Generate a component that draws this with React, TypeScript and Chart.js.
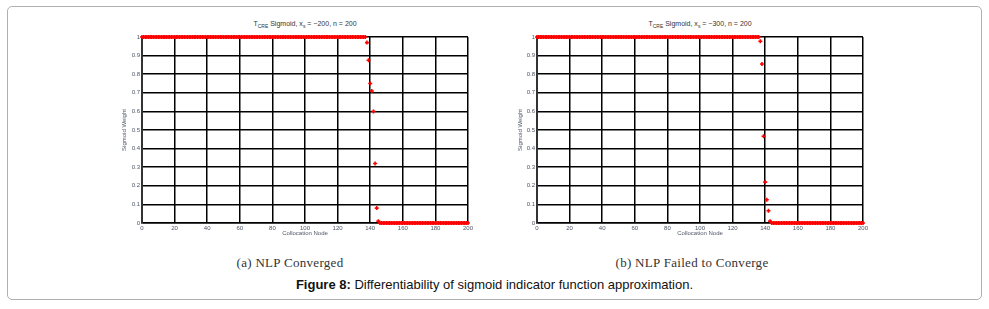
import React, { useEffect, useRef } from "react";
import { Chart, registerables } from "chart.js";

Chart.register(...registerables);

// Tick values
const xTickValues = [0, 20, 40, 60, 80, 100, 120, 140, 160, 180, 200];
const yTickValues = [0, 0.1, 0.2, 0.3, 0.4, 0.5, 0.6, 0.7, 0.8, 0.9, 1];

// Sigmoid weight at collocation nodes 0..200, (a) NLP converged, x_s = -200
const convergedWeights = [
  1, 1, 1, 1, 1, 1, 1, 1, 1, 1, 1, 1, 1, 1, 1, 1, 1, 1, 1, 1,
  1, 1, 1, 1, 1, 1, 1, 1, 1, 1, 1, 1, 1, 1, 1, 1, 1, 1, 1, 1,
  1, 1, 1, 1, 1, 1, 1, 1, 1, 1, 1, 1, 1, 1, 1, 1, 1, 1, 1, 1,
  1, 1, 1, 1, 1, 1, 1, 1, 1, 1, 1, 1, 1, 1, 1, 1, 1, 1, 1, 1,
  1, 1, 1, 1, 1, 1, 1, 1, 1, 1, 1, 1, 1, 1, 1, 1, 1, 1, 1, 1,
  1, 1, 1, 1, 1, 1, 1, 1, 1, 1, 1, 1, 1, 1, 1, 1, 1, 1, 1, 1,
  1, 1, 1, 1, 1, 1, 1, 1, 1, 1, 1, 1, 1, 1, 1, 1, 1, 1,
  0.97, 0.875, 0.75, 0.71, 0.6, 0.32, 0.08, 0.01,
  0, 0, 0, 0, 0, 0, 0, 0, 0, 0, 0, 0, 0, 0, 0, 0, 0, 0, 0, 0,
  0, 0, 0, 0, 0, 0, 0, 0, 0, 0, 0, 0, 0, 0, 0, 0, 0, 0, 0, 0,
  0, 0, 0, 0, 0, 0, 0, 0, 0, 0, 0, 0, 0, 0, 0,
];

// Sigmoid weight at collocation nodes 0..200, (b) NLP failed to converge, x_s = -300
const failedWeights = [
  1, 1, 1, 1, 1, 1, 1, 1, 1, 1, 1, 1, 1, 1, 1, 1, 1, 1, 1, 1,
  1, 1, 1, 1, 1, 1, 1, 1, 1, 1, 1, 1, 1, 1, 1, 1, 1, 1, 1, 1,
  1, 1, 1, 1, 1, 1, 1, 1, 1, 1, 1, 1, 1, 1, 1, 1, 1, 1, 1, 1,
  1, 1, 1, 1, 1, 1, 1, 1, 1, 1, 1, 1, 1, 1, 1, 1, 1, 1, 1, 1,
  1, 1, 1, 1, 1, 1, 1, 1, 1, 1, 1, 1, 1, 1, 1, 1, 1, 1, 1, 1,
  1, 1, 1, 1, 1, 1, 1, 1, 1, 1, 1, 1, 1, 1, 1, 1, 1, 1, 1, 1,
  1, 1, 1, 1, 1, 1, 1, 1, 1, 1, 1, 1, 1, 1, 1, 1, 1,
  0.977, 0.855, 0.466, 0.22, 0.125, 0.066, 0.01,
  0, 0, 0, 0, 0, 0, 0, 0, 0, 0, 0, 0, 0, 0, 0, 0, 0, 0, 0, 0,
  0, 0, 0, 0, 0, 0, 0, 0, 0, 0, 0, 0, 0, 0, 0, 0, 0, 0, 0, 0,
  0, 0, 0, 0, 0, 0, 0, 0, 0, 0, 0, 0, 0, 0, 0, 0, 0,
];

const xAxisTitle = "Collocation Node";
const yAxisTitle = "Sigmoid Weight";

const TICK_COLOR = "#4d5566";
const FONT = "'Liberation Sans', Arial, sans-serif";
const SERIF = "'Liberation Serif', 'DejaVu Serif', serif";

function SigmoidChart(props: { values: number[]; left: number; yTitlePad: number }) {
  const ref = useRef<HTMLCanvasElement | null>(null);
  useEffect(() => {
    if (!ref.current) return;
    const chart = new Chart(ref.current, {
      type: "scatter",
      data: {
        datasets: [
          {
            data: props.values.map((y, i) => ({ x: i, y })),
            pointStyle: "cross",
            pointRadius: 2,
            pointBorderWidth: 1.6,
            borderColor: "#ff0000",
            backgroundColor: "#ff0000",
            showLine: false,
            clip: false as any,
          },
        ],
      },
      options: {
        animation: false,
        responsive: false,
        maintainAspectRatio: false,
        layout: { padding: { left: 0, top: 7, right: 7, bottom: 0 } },
        plugins: { legend: { display: false }, tooltip: { enabled: false }, title: { display: false } },
        scales: {
          x: {
            type: "linear",
            min: 0,
            max: 200,
            afterBuildTicks: (s: any) => {
              s.ticks = xTickValues.map((v) => ({ value: v }));
            },
            afterFit: (s: any) => {
              s.height = 22;
            },
            ticks: {
              autoSkip: false,
              maxRotation: 0,
              padding: 2,
              color: TICK_COLOR,
              font: { family: FONT, size: 6 },
              callback: (v: any) => String(v),
            },
            grid: { color: "#000", lineWidth: 1.5, drawTicks: false },
            border: { color: "#000", width: 1.5 },
            title: {
              display: true,
              text: xAxisTitle,
              color: TICK_COLOR,
              font: { family: FONT, size: 6 },
              padding: { top: 0, bottom: 8 },
            },
          },
          y: {
            type: "linear",
            min: 0,
            max: 1,
            afterBuildTicks: (s: any) => {
              s.ticks = yTickValues.map((v) => ({ value: v }));
            },
            afterFit: (s: any) => {
              s.width = 42;
            },
            ticks: {
              autoSkip: false,
              padding: 2,
              color: TICK_COLOR,
              font: { family: FONT, size: 6 },
              callback: (v: any) => String(+Number(v).toFixed(1)),
            },
            grid: { color: "#000", lineWidth: 1.5, drawTicks: false },
            border: { color: "#333", width: 2 },
            title: {
              display: true,
              text: yAxisTitle,
              color: TICK_COLOR,
              font: { family: FONT, size: 6 },
              padding: { top: props.yTitlePad, bottom: 0 },
            },
          },
        },
      },
    });
    return () => chart.destroy();
  }, []);
  return (
    <canvas
      ref={ref}
      width={375}
      height={215}
      style={{ position: "absolute", left: props.left, top: 30, width: 375, height: 215 }}
    />
  );
}

function PlotTitle(props: { center: number; xs: string }) {
  return (
    <div
      style={{
        position: "absolute",
        left: props.center - 100,
        top: 19,
        width: 200,
        textAlign: "center",
        fontFamily: FONT,
        fontSize: 7,
        color: "#333",
        lineHeight: "9px",
        whiteSpace: "nowrap",
      }}
    >
      T<sub style={{ fontSize: 5 }}>CRE</sub> Sigmoid, x<sub style={{ fontSize: 5 }}>s</sub> = −{props.xs}, n = 200
    </div>
  );
}

function SubCaption(props: { center: number; text: string }) {
  return (
    <div
      style={{
        position: "absolute",
        left: props.center - 150,
        top: 255,
        width: 300,
        textAlign: "center",
        fontFamily: SERIF,
        fontSize: 13,
        letterSpacing: 0.3,
        color: "#333",
        whiteSpace: "nowrap",
      }}
    >
      {props.text}
    </div>
  );
}

export default function App() {
  return (
    <div
      style={{
        position: "fixed",
        left: 0,
        top: 0,
        width: 989,
        height: 309,
        background: "#fff",
        overflow: "hidden",
      }}
    >
      <div
        style={{
          position: "absolute",
          left: 7,
          top: 6,
          width: 975,
          height: 294,
          border: "1px solid #b0b0b0",
          borderRadius: 5,
          boxSizing: "border-box",
        }}
      />
      <PlotTitle center={305} xs="200" />
      <PlotTitle center={700} xs="300" />
      <SigmoidChart values={convergedWeights} left={100} yTitlePad={21} />
      <SigmoidChart values={failedWeights} left={495} yTitlePad={22} />
      <SubCaption center={290} text="(a) NLP Converged" />
      <SubCaption center={692} text="(b) NLP Failed to Converge" />
      <div
        style={{
          position: "absolute",
          left: 0,
          top: 277,
          width: 989,
          textAlign: "center",
          fontFamily: FONT,
          fontSize: 13,
          color: "#111",
        }}
      >
        <b>Figure 8:</b> Differentiability of sigmoid indicator function approximation.
      </div>
    </div>
  );
}
